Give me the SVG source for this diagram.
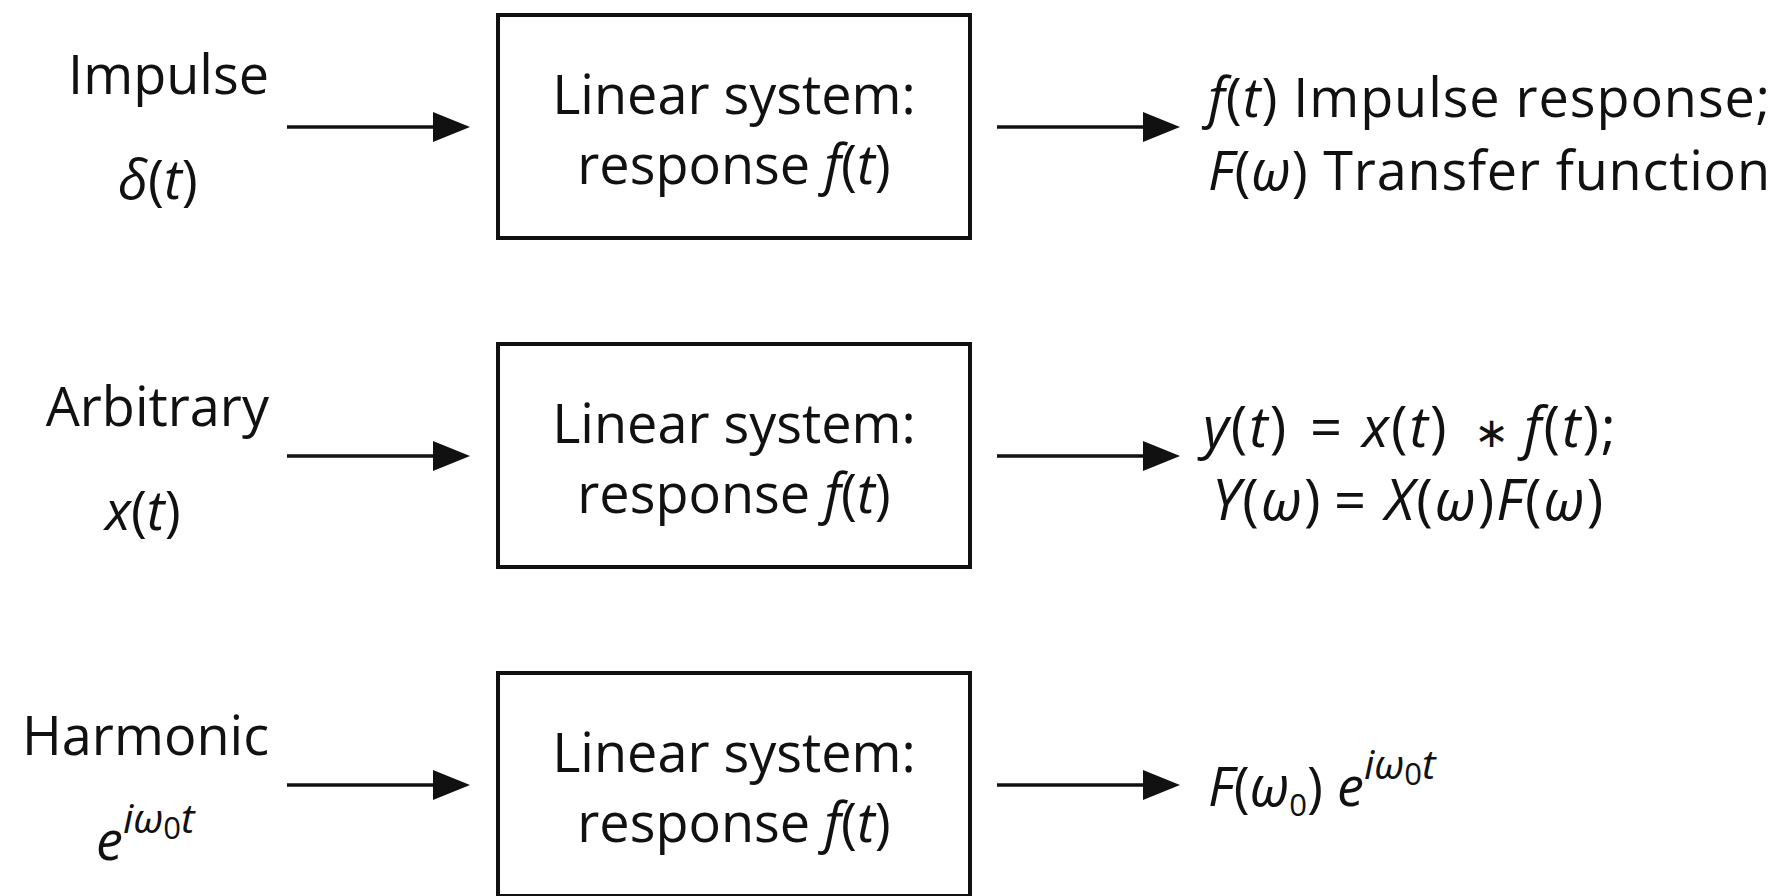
<svg xmlns="http://www.w3.org/2000/svg" width="1783" height="896" viewBox="0 0 1783 896">
<style>
text { font-family: "Open Sans", "DejaVu Sans", sans-serif; font-size: 54px; fill: #111; }
.i { font-style: italic; }
.box { fill: #fff; stroke: #111; stroke-width: 4; }
.arr { stroke: #111; stroke-width: 3.5; fill: none; marker-end: url(#ah); }
.sup { font-size: 41px; font-style: italic; }
.sub { font-size: 31px; }
.eq { font-size: 56px; letter-spacing: 2px; }
.op { font-family: "DejaVu Sans", sans-serif; font-size: 42px; font-weight: 400; }
</style>
<defs>
<marker id="ah" markerUnits="userSpaceOnUse" markerWidth="37" markerHeight="30" refX="12" refY="15" orient="auto">
<path d="M0,0 L37,15 L0,30 Z" fill="#111"/>
</marker>
</defs>
<rect width="1783" height="896" fill="#fff"/>

<g id="connectors">
<line class="arr" x1="287" y1="127" x2="445" y2="127"/>
<line class="arr" x1="997" y1="127" x2="1155" y2="127"/>
<line class="arr" x1="287" y1="456" x2="445" y2="456"/>
<line class="arr" x1="997" y1="456" x2="1155" y2="456"/>
<line class="arr" x1="287" y1="785" x2="445" y2="785"/>
<line class="arr" x1="997" y1="785" x2="1155" y2="785"/>
</g>

<g id="input1">
<text x="269" y="94" text-anchor="end">Impulse</text>
<text x="118" y="199"><tspan class="i">δ</tspan>(<tspan class="i">t</tspan>)</text>
</g>
<g id="system1">
<rect class="box" x="498" y="15" width="472" height="223"/>
<text x="734" y="114" text-anchor="middle">Linear system:</text>
<text x="734" y="184" text-anchor="middle">response <tspan class="i">f</tspan>(<tspan class="i">t</tspan>)</text>
</g>
<g id="output1">
<text x="1208" y="117" textLength="562"><tspan class="i">f</tspan>(<tspan class="i">t</tspan>) Impulse response;</text>
<text x="1208" y="190" textLength="562"><tspan class="i">F</tspan>(<tspan class="i">ω</tspan>) Transfer function</text>
</g>

<g id="input2">
<text x="269" y="426" text-anchor="end">Arbitrary</text>
<text x="105" y="530"><tspan class="i">x</tspan>(<tspan class="i">t</tspan>)</text>
</g>
<g id="system2">
<rect class="box" x="498" y="344" width="472" height="223"/>
<text x="734" y="443" text-anchor="middle">Linear system:</text>
<text x="734" y="513" text-anchor="middle">response <tspan class="i">f</tspan>(<tspan class="i">t</tspan>)</text>
</g>
<g id="output2">
<text class="eq" y="447"><tspan x="1203" class="i">y</tspan>(<tspan class="i">t</tspan>)<tspan x="1310">=</tspan><tspan x="1362" class="i">x</tspan>(<tspan class="i">t</tspan>)<tspan x="1474" class="op">∗</tspan><tspan x="1524" class="i">f</tspan>(<tspan class="i">t</tspan>);</text>
<text class="eq" y="520"><tspan x="1212" class="i">Y</tspan>(<tspan class="i">ω</tspan>)<tspan x="1334">=</tspan><tspan x="1385" class="i">X</tspan>(<tspan class="i">ω</tspan>)<tspan class="i">F</tspan>(<tspan class="i">ω</tspan>)</text>
</g>

<g id="input3">
<text x="269" y="755" text-anchor="end">Harmonic</text>
<text x="96" y="860"><tspan class="i">e</tspan><tspan class="sup" dy="-27">iω</tspan><tspan class="sub" dy="6">0</tspan><tspan class="sup" dy="-6">t</tspan></text>
</g>
<g id="system3">
<rect class="box" x="498" y="673" width="472" height="223"/>
<text x="734" y="772" text-anchor="middle">Linear system:</text>
<text x="734" y="842" text-anchor="middle">response <tspan class="i">f</tspan>(<tspan class="i">t</tspan>)</text>
</g>
<g id="output3">
<text x="1208" y="806"><tspan class="i">F</tspan>(<tspan class="i">ω</tspan><tspan class="sub" dy="10">0</tspan><tspan dy="-10">)</tspan> <tspan class="i">e</tspan><tspan class="sup" dy="-27">iω</tspan><tspan class="sub" dy="6">0</tspan><tspan class="sup" dy="-6">t</tspan></text>
</g>
</svg>
